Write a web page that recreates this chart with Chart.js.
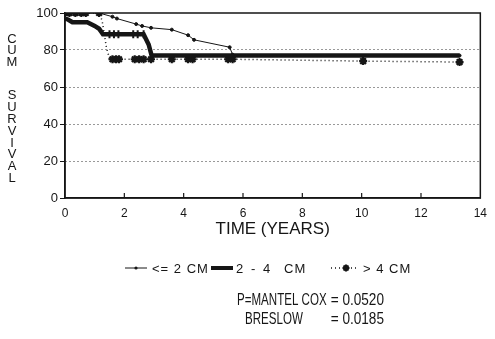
<!DOCTYPE html>
<html>
<head>
<meta charset="utf-8">
<script src="https://cdn.jsdelivr.net/npm/chart.js@4/dist/chart.umd.min.js"></script>
<style>
  html, body { margin: 0; padding: 0; background: #fff; }
  #wrap { width: 495px; height: 339px; position: relative; }
</style>
</head>
<body>
<div id="wrap"><canvas id="kmChart" width="495" height="339"></canvas></div>
<script>
// survival curves (years, cumulative survival %)
const smallYears = [0, 1.15, 1.6, 1.75, 2.4, 2.6, 2.9, 3.6, 4.15, 4.35, 5.55, 5.65, 13.3];
const smallSurv  = [100, 100, 98, 97, 94, 93, 92, 91, 88, 85.5, 81.5, 77.5, 77];

const midYears    = [0, 0.1, 0.25, 0.75, 1.0, 1.15, 1.28, 1.5, 1.65, 1.8, 2.3, 2.45, 2.65, 2.82, 2.92, 13.3];
const midSurv     = [97, 96.5, 95, 95, 93, 91.5, 88.5, 88.5, 88.5, 88.5, 88.5, 88.5, 88.5, 83, 77, 77];
const midCensored = [0, 0, 0, 0, 0, 0, 0, 1, 1, 1, 1, 1, 1, 0, 0, 0];

const largeYears    = [0, 0.15, 0.35, 0.55, 0.7, 1.15, 1.25, 1.4, 1.5, 1.6, 1.72, 1.82, 2.35, 2.5, 2.65, 2.9, 3.6, 4.15, 4.3, 5.5, 5.65, 10.05, 13.3];
const largeSurv     = [100, 100, 100, 100, 100, 100, 96, 81, 75.5, 75, 75, 75, 75, 75, 75, 75, 75, 75, 75, 75, 75, 74, 73.5];
const largeCensored = [1, 1, 1, 1, 1, 1, 0, 0, 0, 1, 1, 1, 1, 1, 1, 1, 1, 1, 1, 1, 1, 1, 1];

const seriesNames = ['<= 2 CM', '2 - 4 CM', '> 4 CM'];
const xTicks = [0, 2, 4, 6, 8, 10, 12, 14];
const yTicks = [0, 20, 40, 60, 80, 100];
const yTitle = ['C', 'U', 'M', '', 'S', 'U', 'R', 'V', 'I', 'V', 'A', 'L'];
const statLines = [['P=MANTEL COX', '= 0.0520'], ['BRESLOW', '= 0.0185']];

const FONT = "'Liberation Sans', Arial, sans-serif";
const INK = '#161616';

function toPoints(xs, ys) {
    return xs.map((x, i) => ({ x: x, y: ys[i] }));
}

// text squeezed horizontally, like the old plotter lettering
function narrowText(ctx, text, x, y, sx, align) {
    ctx.save();
    ctx.translate(x, y);
    ctx.scale(sx, 1);
    ctx.textAlign = align;
    ctx.fillText(text, 0, 0);
    ctx.restore();
}

function star(ctx, cx, cy, r) {
    for (let k = 0; k < 4; k++) {
        const ang = k * Math.PI / 4;
        ctx.beginPath();
        ctx.moveTo(cx - r * Math.cos(ang), cy - r * Math.sin(ang));
        ctx.lineTo(cx + r * Math.cos(ang), cy + r * Math.sin(ang));
        ctx.stroke();
    }
}

// frame, inward x ticks, stacked y title, legend and test results
const extras = {
    id: 'extras',
    afterDraw(chart) {
        const ctx = chart.ctx;
        const a = chart.chartArea;
        const xs = chart.scales.x;
        ctx.save();
        ctx.strokeStyle = INK;
        ctx.lineWidth = 1.5;
        ctx.strokeRect(a.left, a.top, a.right - a.left, a.bottom - a.top);

        ctx.lineWidth = 1.2;
        xTicks.slice(1, -1).forEach(v => {
            const px = xs.getPixelForValue(v);
            ctx.beginPath();
            ctx.moveTo(px, a.bottom);
            ctx.lineTo(px, a.bottom - 5);
            ctx.stroke();
        });

        ctx.fillStyle = INK;
        ctx.font = '13px ' + FONT;
        ctx.textAlign = 'center';
        ctx.textBaseline = 'middle';
        let ty = 39;
        yTitle.forEach(ch => {
            if (ch) ctx.fillText(ch, 12, ty);
            ty += ch ? 11.8 : 21.5;
        });

        // legend
        const ly = 268;
        ctx.textAlign = 'left';
        ctx.font = '13px ' + FONT;
        ctx.letterSpacing = '1px';
        ctx.lineWidth = 1;
        ctx.beginPath(); ctx.moveTo(125, ly); ctx.lineTo(147, ly); ctx.stroke();
        ctx.beginPath(); ctx.arc(136, ly, 1.6, 0, Math.PI * 2); ctx.fill();
        ctx.fillText(seriesNames[0], 152, ly + 1);

        ctx.lineWidth = 4;
        ctx.beginPath(); ctx.moveTo(211, ly); ctx.lineTo(233, ly); ctx.stroke();
        const parts = seriesNames[1].split(' ');
        const partX = [236, 251, 263, 284];
        parts.forEach((p, i) => ctx.fillText(p, partX[i], ly + 1));

        ctx.lineWidth = 1.5;
        ctx.setLineDash([1, 3]);
        ctx.beginPath(); ctx.moveTo(331, ly); ctx.lineTo(358, ly); ctx.stroke();
        ctx.setLineDash([]);
        ctx.lineWidth = 2;
        star(ctx, 346, ly, 3.5);
        ctx.fillText(seriesNames[2], 363, ly + 1);

        // test statistics
        ctx.letterSpacing = '0px';
        ctx.font = '17px ' + FONT;
        narrowText(ctx, statLines[0][0], 237, 300, 0.68, 'left');
        narrowText(ctx, statLines[1][0], 245, 319, 0.68, 'left');
        narrowText(ctx, statLines[0][1], 384, 300, 0.8, 'right');
        narrowText(ctx, statLines[1][1], 384, 319, 0.8, 'right');
        ctx.restore();
    }
};

const ctx = document.getElementById('kmChart').getContext('2d');
new Chart(ctx, {
    type: 'line',
    data: {
        datasets: [{
            label: seriesNames[0],
            data: toPoints(smallYears, smallSurv),
            borderColor: INK,
            backgroundColor: INK,
            borderWidth: 1,
            pointRadius: 1.5,
            pointStyle: 'circle'
        }, {
            label: seriesNames[1],
            data: toPoints(midYears, midSurv),
            borderColor: INK,
            backgroundColor: INK,
            borderWidth: 4.5,
            pointStyle: 'line',
            rotation: 90,
            pointBorderWidth: 2,
            pointRadius: c => midCensored[c.dataIndex] ? 4 : 0
        }, {
            label: seriesNames[2],
            data: toPoints(largeYears, largeSurv),
            borderColor: INK,
            backgroundColor: INK,
            borderWidth: 1.5,
            borderDash: [1, 3],
            pointStyle: 'star',
            pointBorderWidth: 2.2,
            pointRadius: c => largeCensored[c.dataIndex] ? 4 : 0
        }]
    },
    options: {
        responsive: false,
        animation: false,
        layout: { padding: { top: 13, right: 7, bottom: 96, left: 0 } },
        plugins: {
            legend: { display: false },
            tooltip: { enabled: false }
        },
        scales: {
            x: {
                type: 'linear',
                min: 0,
                max: 14,
                afterBuildTicks: s => { s.ticks = xTicks.map(v => ({ value: v })); },
                afterFit: s => { s.height = 45; },
                ticks: { color: INK, font: { family: FONT, size: 12 }, padding: 8, maxRotation: 0 },
                grid: { drawOnChartArea: false, drawTicks: false },
                border: { color: INK, width: 1.5 },
                title: {
                    display: true,
                    text: 'TIME (YEARS)',
                    color: INK,
                    font: { family: FONT, size: 17 },
                    padding: { top: 0, bottom: 3 }
                }
            },
            y: {
                min: 0,
                max: 100,
                afterBuildTicks: s => { s.ticks = yTicks.map(v => ({ value: v })); },
                afterFit: s => { s.width = 65; },
                ticks: { color: INK, font: { family: FONT, size: 13 }, padding: 2 },
                grid: {
                    color: c => (c.tick && (c.tick.value === 0 || c.tick.value === 100)) ? 'rgba(0,0,0,0)' : '#333',
                    tickColor: INK,
                    tickLength: 5,
                    tickBorderDash: []
                },
                border: { color: INK, width: 1.5, dash: [1, 3] }
            }
        }
    },
    plugins: [extras]
});
</script>
</body>
</html>
